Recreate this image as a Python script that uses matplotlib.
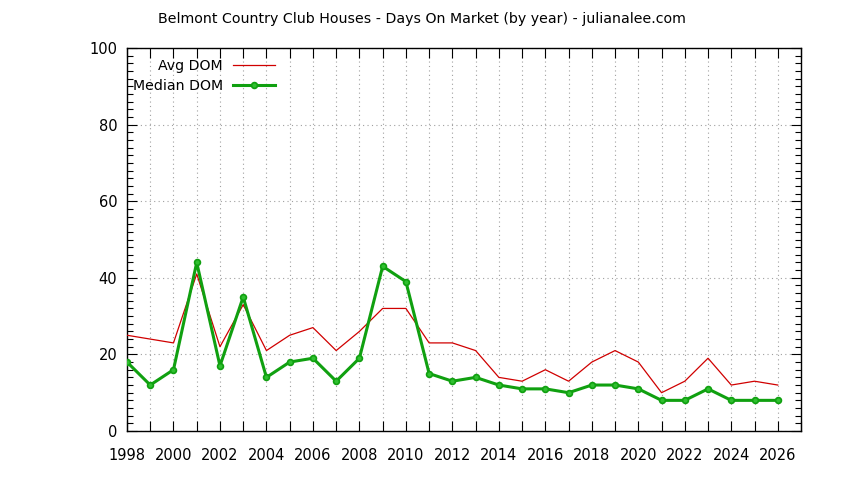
import matplotlib
matplotlib.use("Agg")
import matplotlib.pyplot as plt
from matplotlib.ticker import MultipleLocator

years = list(range(1998, 2027))
avg_dom = [25, 24, 23, 41, 22, 33, 21, 25, 27, 21, 26, 32, 32, 23, 23, 21,
           14, 13, 16, 13, 18, 21, 18, 10, 13, 19, 12, 13, 12]
median_dom = [18, 12, 16, 44, 17, 35, 14, 18, 19, 13, 19, 43, 39, 15, 13, 14,
              12, 11, 11, 10, 12, 12, 11, 8, 8, 11, 8, 8, 8]

title = "Belmont Country Club Houses - Days On Market (by year) - julianalee.com"

plt.rcParams['font.family'] = ['DejaVu Sans']
plt.rcParams['font.size'] = 10

fig = plt.figure(figsize=(8.44, 4.8), dpi=100)
ax = fig.add_axes([127 / 844, 1 - 431 / 480, (801 - 127) / 844, (431 - 48) / 480])

ax.plot(years, avg_dom, color='#d00000', lw=0.9, label='Avg DOM', zorder=3)
ax.plot(years, median_dom, color='#10a010', lw=2.2, marker='o', ms=4.2,
        mfc='#30c030', mec='#10a010', mew=1.2, label='Median DOM', zorder=4)

ax.set_xlim(1998, 2027)
ax.set_ylim(0, 100)
ax.xaxis.set_major_locator(MultipleLocator(2))
ax.xaxis.set_minor_locator(MultipleLocator(1))
ax.yaxis.set_major_locator(MultipleLocator(20))
ax.yaxis.set_minor_locator(MultipleLocator(2))

ax.tick_params(which='both', direction='in', top=True, right=True, width=0.8)
ax.tick_params(axis='x', which='both', length=7, pad=12, labelsize=10.5)
ax.tick_params(axis='y', which='major', length=7, pad=7, labelsize=10.5)
ax.tick_params(axis='y', which='minor', length=4)

ax.grid(True, which='both', axis='x', color='#a0a0a0', ls=(0, (1, 3)), lw=0.8)
ax.grid(True, which='major', axis='y', color='#a0a0a0', ls=(0, (1, 3)), lw=0.8)
ax.set_axisbelow(True)
for s in ax.spines.values():
    s.set_linewidth(1.0)

fig.text(422 / 844, 1 - 19 / 480, title, ha='center', va='center', fontsize=10.2)

leg = ax.legend(loc='upper left', bbox_to_anchor=(0.0, 1 - 5 / 383), frameon=False,
                markerfirst=False, handlelength=2.95, handletextpad=0.7,
                labelspacing=0.45, fontsize=10.2, borderaxespad=0.0)

fig.savefig("out.png", dpi=100)
